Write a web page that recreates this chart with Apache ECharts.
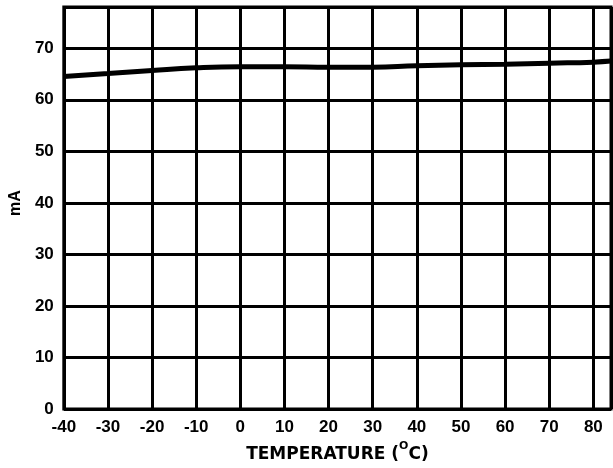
<!DOCTYPE html>
<html>
<head>
<meta charset="utf-8">
<script src="https://cdn.jsdelivr.net/npm/echarts@6/dist/echarts.min.js"></script>
<style>html,body{margin:0;padding:0;background:#fff}#c{width:613px;height:468px}</style>
</head>
<body>
<div id="c"></div>
<script>
const temps = [-40, -30, -20, -10, 0, 10, 20, 30, 40, 50, 60, 70, 80, 84];
const current = [64.5, 65.1, 65.7, 66.2, 66.4, 66.4, 66.3, 66.3, 66.6, 66.8, 66.9, 67.1, 67.3, 67.5];
const xTicks = [-40, -30, -20, -10, 0, 10, 20, 30, 40, 50, 60, 70, 80];
const yTicks = [0, 10, 20, 30, 40, 50, 60, 70];

const font = '"Liberation Sans", Arial, sans-serif';
const titleFont = '"DejaVu Sans", sans-serif';
const chart = echarts.init(document.getElementById('c'), null, {renderer: 'canvas'});
chart.setOption({
  animation: false,
  grid: {left: 62, right: 2, top: 7, bottom: 59, show: true, borderColor: '#000', borderWidth: 3, containLabel: false},
  xAxis: {
    type: 'value', min: -40, max: 84, interval: 10,
    axisLine: {show: false}, axisTick: {show: false},
    splitLine: {show: true, lineStyle: {color: '#000', width: 3}},
    axisLabel: {
      color: '#000', fontFamily: font, fontWeight: 'bold', fontSize: 17, margin: 10,
      showMaxLabel: false,
      formatter: v => xTicks.includes(v) ? String(v) : ''
    },
    name: '{a|TEMPERATURE (}{s|O}{a|C)}',
    nameLocation: 'middle', nameGap: 28,
    nameTextStyle: {
      rich: {
        a: {fontFamily: titleFont, fontWeight: 'bold', fontSize: 17, lineHeight: 22, verticalAlign: 'bottom', color: '#000'},
        s: {fontFamily: titleFont, fontWeight: 'bold', fontSize: 11, lineHeight: 12, verticalAlign: 'top', color: '#000'}
      }
    }
  },
  yAxis: {
    type: 'value', min: 0, max: 78, interval: 10,
    axisLine: {show: false}, axisTick: {show: false},
    splitLine: {show: true, lineStyle: {color: '#000', width: 3}},
    axisLabel: {
      color: '#000', fontFamily: font, fontWeight: 'bold', fontSize: 17, margin: 10,
      showMaxLabel: false,
      formatter: v => yTicks.includes(v) ? String(v) : ''
    },
    name: 'mA', nameLocation: 'middle', nameGap: 39, nameRotate: 90,
    nameTextStyle: {fontFamily: font, fontWeight: 'bold', fontSize: 16, color: '#000', padding: [0, 0, 0, 10]}
  },
  series: [{
    type: 'line', data: temps.map((t, i) => [t, current[i]]),
    smooth: true, showSymbol: false,
    lineStyle: {color: '#000', width: 5}
  }]
});
</script>
</body>
</html>
